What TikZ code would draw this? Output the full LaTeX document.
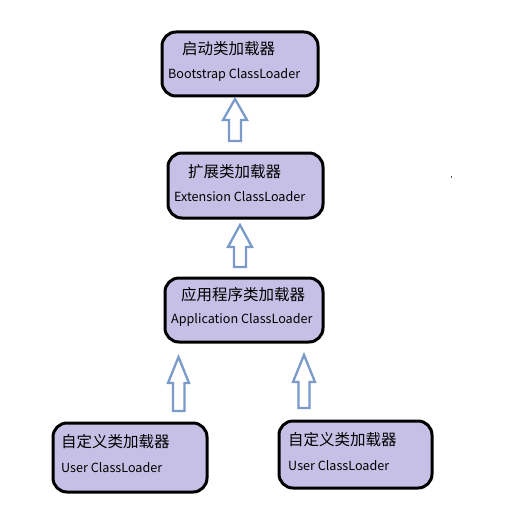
\documentclass[tikz,border=0pt]{standalone}
\usepackage{fontspec}
\setmainfont{Noto Sans CJK SC}
\definecolor{boxfill}{HTML}{C7C0E6}
\definecolor{arrowline}{HTML}{7A9ACA}
\begin{document}
\begin{tikzpicture}[x=1pt,y=-1pt,
  loaderbox/.style={draw=black, line width=3pt, fill=boxfill, rounded corners=14pt, inner sep=0pt},
  zh/.style={anchor=west, inner sep=0pt, font=\fontsize{15.5}{17}\selectfont},
  en/.style={anchor=west, inner sep=0pt, font=\fontsize{12.6}{14}\selectfont},
  hollow/.style={draw=arrowline, line width=2.3pt, fill=white, line join=miter}]
\useasboundingbox (0,0) rectangle (528,532);
% boxes
\node[loaderbox, minimum width=156pt, minimum height=64pt] (boot) at (240,64) {};
\node[loaderbox, minimum width=155pt, minimum height=65pt] (ext) at (245.5,185.5) {};
\node[loaderbox, minimum width=158pt, minimum height=64pt] (app) at (244,310) {};
\node[loaderbox, minimum width=154pt, minimum height=69pt] (user1) at (130,457.5) {};
\node[loaderbox, minimum width=153pt, minimum height=67pt] (user2) at (355.5,454.5) {};
% labels
\node[zh] (bootzh) at (182,49) {启动类加载器};
\node[en] (booten) at (168,75) {Bootstrap ClassLoader};
\node[zh] (extzh) at (188,172) {扩展类加载器};
\node[en] (exten) at (174,197) {Extension ClassLoader};
\node[zh] (appzh) at (181,295) {应用程序类加载器};
\node[en] (appen) at (171,320) {Application ClassLoader};
\node[zh] (u1zh) at (61,442) {自定义类加载器};
\node[en] (u1en) at (61,468) {User ClassLoader};
\node[zh] (u2zh) at (288,440) {自定义类加载器};
\node[en] (u2en) at (288,466) {User ClassLoader};
% hollow block arrows
\draw[hollow] (235,99) -- (247,120) -- (241,120) -- (241,141) -- (229,141) -- (229,120) -- (223,120) -- cycle;
\draw[hollow] (240,225) -- (252,247) -- (246,247) -- (246,267) -- (234,267) -- (234,247) -- (228,247) -- cycle;
\draw[hollow] (178.5,357) -- (189,383) -- (184.5,383) -- (184.5,411) -- (173,411) -- (173,383) -- (168,383) -- cycle;
\draw[hollow] (304,355) -- (315,382) -- (309.5,382) -- (309.5,408) -- (298.5,408) -- (298.5,382) -- (293,382) -- cycle;
% stray dot
\fill[black!70] (450.5,176) rectangle (452,177.5);
\end{tikzpicture}
\end{document}
